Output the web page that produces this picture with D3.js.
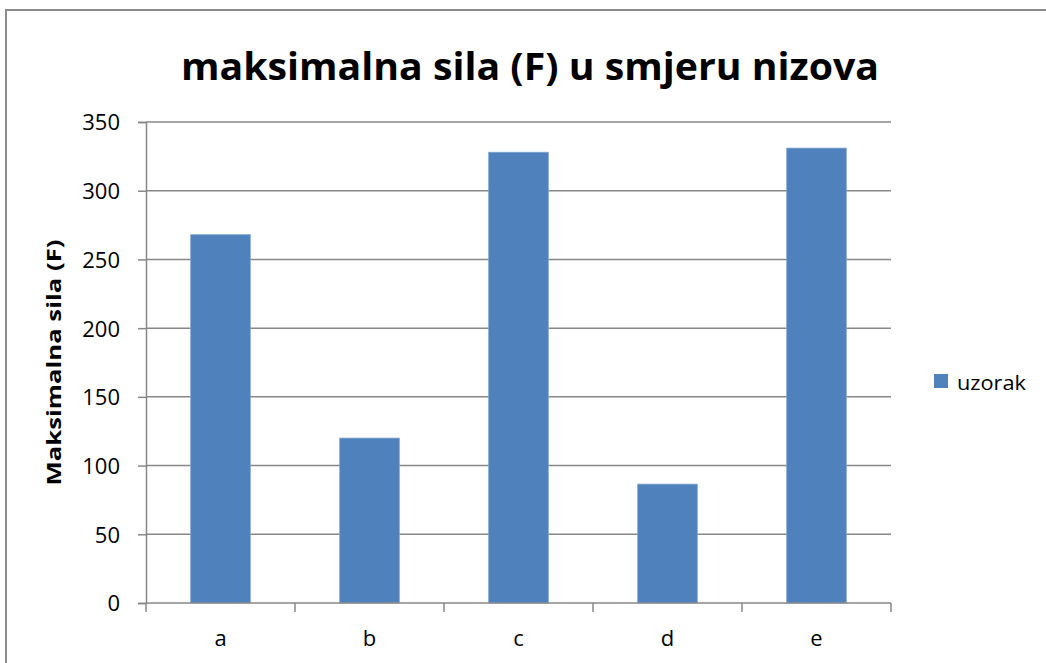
<!DOCTYPE html>
<html>
<head>
<meta charset="utf-8">
<script src="https://d3js.org/d3.v7.min.js"></script>
<style>
  html, body { margin: 0; padding: 0; background: #fff; }
  svg { display: block; }
  text { font-family: "Open Sans", "Noto Sans", sans-serif; fill: #000; }
</style>
</head>
<body>
<svg id="chart" width="1046" height="663"></svg>
<script>
// Chart data
const categories = ["a", "b", "c", "d", "e"];
const values = [268, 120, 328, 86.5, 331];
const yTicks = [0, 50, 100, 150, 200, 250, 300, 350];
const seriesName = "uzorak";
const chartTitle = "maksimalna sila (F) u smjeru nizova";
const yAxisTitle = "Maksimalna sila (F)";

const svg = d3.select("#chart");
const W = 1046, H = 663;
const plot = { left: 146, right: 891, top: 122, bottom: 603 };
const barColor = "#4F81BD";
const gridColor = "#878787";

// Outer frame of the chart area
svg.append("rect")
  .attr("x", 6).attr("y", 10)
  .attr("width", W + 20).attr("height", H + 20)
  .attr("fill", "#fff")
  .attr("stroke", "#8c8c8c").attr("stroke-width", 2);

const x = d3.scaleBand()
  .domain(categories)
  .range([plot.left, plot.right])
  .paddingInner(0.6)
  .paddingOuter(0.3);

const y = d3.scaleLinear()
  .domain([0, 350])
  .range([plot.bottom, plot.top]);

// Horizontal gridlines
svg.append("g")
  .selectAll("line")
  .data(yTicks.filter(d => d > 0))
  .join("line")
  .attr("x1", plot.left).attr("x2", plot.right)
  .attr("y1", d => y(d)).attr("y2", d => y(d))
  .attr("stroke", gridColor).attr("stroke-width", 1.5);

// Bars
svg.append("g")
  .selectAll("rect")
  .data(values)
  .join("rect")
  .attr("x", (d, i) => x(categories[i]))
  .attr("y", d => y(d))
  .attr("width", x.bandwidth())
  .attr("height", d => y(0) - y(d))
  .attr("fill", barColor)
  .attr("stroke", "#7fa3d1")
  .attr("stroke-width", 0.8);

// Y axis
const yAxis = d3.axisLeft(y)
  .tickValues(yTicks)
  .tickSize(8)
  .tickPadding(18)
  .tickFormat(d3.format("d"));
const gy = svg.append("g")
  .attr("transform", `translate(${plot.left},0)`)
  .call(yAxis);
gy.attr("font-size", null).attr("font-family", null);
gy.select(".domain").attr("stroke", gridColor).attr("stroke-width", 1.5);
gy.selectAll(".tick line").attr("stroke", gridColor).attr("stroke-width", 1.5);
gy.selectAll(".tick text")
  .attr("dy", "0.36em")
  .style("font-family", "'Open Sans', sans-serif")
  .style("font-size", "22px")
  .attr("fill", "#000");

// X axis with tick marks between categories
const gx = svg.append("g")
  .attr("transform", `translate(0,${plot.bottom})`);
gx.append("line")
  .attr("x1", plot.left).attr("x2", plot.right)
  .attr("y1", 0).attr("y2", 0)
  .attr("stroke", gridColor).attr("stroke-width", 1.5);
const step = x.step();
const boundaries = d3.range(categories.length + 1).map(i => plot.left + i * step);
gx.selectAll("line.tk")
  .data(boundaries)
  .join("line")
  .attr("class", "tk")
  .attr("x1", d => d).attr("x2", d => d)
  .attr("y1", 0).attr("y2", 9)
  .attr("stroke", gridColor).attr("stroke-width", 1.5);
gx.selectAll("text")
  .data(categories)
  .join("text")
  .attr("x", d => x(d) + x.bandwidth() / 2)
  .attr("y", 43)
  .attr("text-anchor", "middle")
  .style("font-size", "22px")
  .text(d => d);

// Chart title
svg.append("text")
  .attr("x", 530)
  .attr("y", 80)
  .attr("text-anchor", "middle")
  .attr("textLength", 698)
  .attr("lengthAdjust", "spacingAndGlyphs")
  .style("font-size", "37px")
  .style("font-weight", "bold")
  .text(chartTitle);

// Y axis title
svg.append("text")
  .attr("transform", `translate(61,${(plot.top + plot.bottom) / 2}) rotate(-90)`)
  .attr("text-anchor", "middle")
  .attr("textLength", 246)
  .attr("lengthAdjust", "spacingAndGlyphs")
  .style("font-size", "20px")
  .style("font-weight", "bold")
  .text(yAxisTitle);

// Legend
const lg = svg.append("g").attr("transform", "translate(934,374)");
lg.append("rect")
  .attr("width", 14).attr("height", 14)
  .attr("fill", barColor);
lg.append("text")
  .attr("x", 23).attr("y", 16)
  .attr("textLength", 69)
  .attr("lengthAdjust", "spacingAndGlyphs")
  .style("font-size", "20px")
  .text(seriesName);
</script>
</body>
</html>
